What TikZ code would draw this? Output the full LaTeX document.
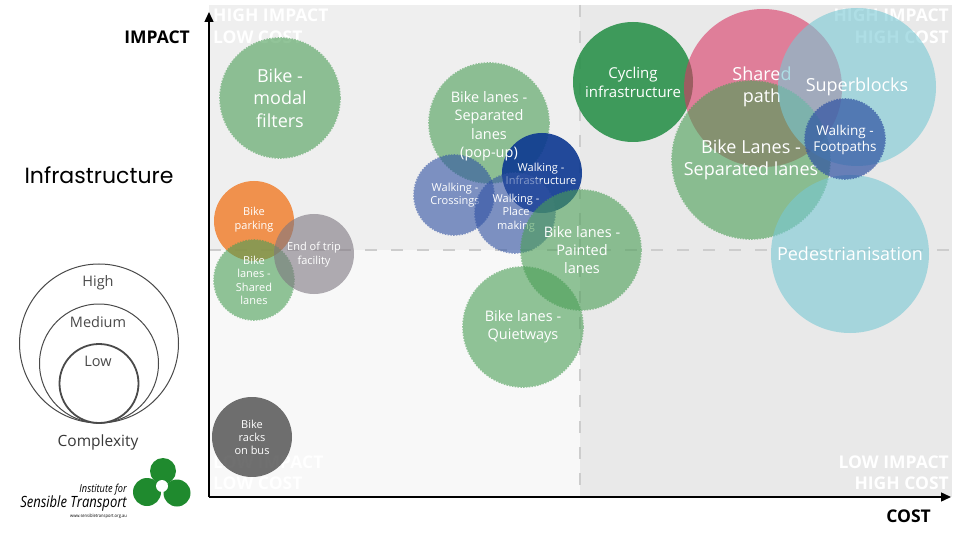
\documentclass[tikz,border=0pt]{standalone}
\usepackage{fontspec}
\setmainfont{Open Sans}
\newfontfamily\popfont{Poppins}
\usetikzlibrary{arrows.meta}
\definecolor{bgTL}{HTML}{EFEFEF}
\definecolor{bgBL}{HTML}{F8F8F8}
\definecolor{bgR}{HTML}{E9E9E9}
\definecolor{dashc}{HTML}{CDCDCD}
\definecolor{cGreen}{HTML}{4A9E56}
\definecolor{cDGreen}{HTML}{2C924C}
\definecolor{cPink}{HTML}{D93765}
\definecolor{cTeal}{HTML}{78C8D4}
\definecolor{cBlue}{HTML}{3052A3}
\definecolor{cDBlue}{HTML}{0C3891}
\definecolor{cOrange}{HTML}{F18131}
\definecolor{cGray}{HTML}{7D7680}
\definecolor{cDGray}{HTML}{575757}
\definecolor{legc}{HTML}{4A4A4A}
\definecolor{logoG}{HTML}{1F8A2E}
\newcommand\fs[2]{\fontsize{#1}{#2}\selectfont}
\newcommand\dashbub[5]{\begin{scope}[transparency group, opacity=#5]
  \fill[#4] (#1,#2) circle[radius=#3pt];
  \draw[#4, line width=1.6pt, dash pattern=on 1.5pt off 1.3pt] (#1,#2) circle[radius=#3pt];
\end{scope}}
\newcommand\solidbub[5]{\begin{scope}[transparency group, opacity=#5]
  \fill[#4] (#1,#2) circle[radius=#3pt];
\end{scope}}
\tikzset{
  lbl/.style={text=white, align=center, inner sep=0pt},
  qlab/.style={text=white, inner sep=0pt, font=\bfseries\fs{17.5}{21}},
  axlab/.style={text=black, inner sep=0pt, font=\bfseries\fs{17.5}{21}},
  legring/.style={draw=legc, line width=1pt},
  leglab/.style={text=legc, inner sep=0pt, font=\fs{14.5}{17}},
  axisline/.style={line width=1.4pt, -{Triangle[length=10pt,width=9pt]}},
  quaddash/.style={dashc, line width=1.5pt, dash pattern=on 12pt off 14pt}
}
\begin{document}
\begin{tikzpicture}[x=1pt,y=-1pt]
\useasboundingbox (0,0) rectangle (956,540);
\fill[white] (0,0) rectangle (956,540);
% background quadrants
\fill[bgTL] (209,5) rectangle (580,250);
\fill[bgBL] (209,250) rectangle (580,497);
\fill[bgR] (580,5) rectangle (952,497);
\draw[quaddash] (209,250) -- (952,250);
\draw[quaddash] (580,5) -- (580,497);
% quadrant labels
\node[qlab, anchor=base west] (q1a) at (213,22) {HIGH IMPACT};
\node[qlab, anchor=base west] (q1b) at (213,44) {LOW COST};
\node[qlab, anchor=base east] (q2a) at (949,22) {HIGH IMPACT};
\node[qlab, anchor=base east] (q2b) at (949,44) {HIGH COST};
\node[qlab, anchor=base west] (q3a) at (213,468) {LOW IMPACT};
\node[qlab, anchor=base west] (q3b) at (213,489) {LOW COST};
\node[qlab, anchor=base east] (q4a) at (949,468) {LOW IMPACT};
\node[qlab, anchor=base east] (q4b) at (949,489) {HIGH COST};
% bubbles, left group
\dashbub{280}{98}{60}{cGreen}{0.6}
\node[lbl, font=\fs{18}{22.5}] (modal) at (280,98) {Bike -\\modal\\filters};
\solidbub{254}{221}{40}{cOrange}{0.85}
\node[lbl, font=\fs{11}{14}] (parking) at (254,219.5) {Bike\\parking};
\dashbub{254}{280}{40}{cGreen}{0.6}
\node[lbl, font=\fs{11}{13.4}] (shared) at (254,280.5) {Bike\\lanes -\\Shared\\lanes};
\solidbub{314}{254}{40}{cGray}{0.6}
\node[lbl, font=\fs{11}{14}] (endtrip) at (314,254.5) {End of trip\\facility};
\solidbub{252}{437}{40}{cDGray}{0.85}
\node[lbl, font=\fs{11}{12.7}] (racks) at (252,437.5) {Bike\\racks\\on bus};
% middle group
\dashbub{489}{123}{60}{cGreen}{0.6}
\dashbub{454}{195}{40}{cBlue}{0.6}
\node[lbl, font=\fs{11}{13.3}] (cross) at (455,195) {Walking -\\Crossings};
\solidbub{542}{173}{40}{cDBlue}{0.9}
\node[lbl, font=\fs{14.5}{18.5}] (popup) at (489,126) {Bike lanes -\\Separated\\lanes\\(pop-up)};
\node[lbl, font=\fs{11}{13.3}] (walkinf) at (541,174) {Walking -\\Infrastructure};
\dashbub{515}{213}{40}{cBlue}{0.6}
\node[lbl, font=\fs{11}{13.5}] (place) at (516,213) {Walking -\\Place\\making};
\dashbub{581}{250}{60}{cGreen}{0.6}
\node[lbl, font=\fs{14.5}{17.8}] (painted) at (582,250) {Bike lanes -\\Painted\\lanes};
\dashbub{523}{327}{60}{cGreen}{0.6}
\node[lbl, font=\fs{14.5}{17.8}] (quiet) at (523,327) {Bike lanes -\\Quietways};
% right group
\solidbub{633}{82}{60}{cDGreen}{0.9}
\node[lbl, font=\fs{15}{18.5}] (cycling) at (633,82.5) {Cycling\\infrastructure};
\solidbub{763}{88}{79}{cPink}{0.6}
\dashbub{751}{160}{79}{cGreen}{0.6}
\node[lbl, font=\fs{18}{21.5}] (sharedpath) at (762,87) {Shared\\path};
\node[lbl, font=\fs{18}{22}] (seplanes) at (751,160) {Bike Lanes -\\Separated lanes};
\solidbub{857}{87}{79}{cTeal}{0.6}
\node[lbl, font=\fs{18}{22}] (superb) at (857,87) {Superblocks};
\solidbub{850}{254}{79}{cTeal}{0.6}
\node[lbl, font=\fs{18}{22}] (pedest) at (850,254) {Pedestrianisation};
\dashbub{845}{139}{40}{cBlue}{0.7}
\node[lbl, font=\fs{13.5}{16}] (footp) at (845,140) {Walking -\\Footpaths};
% axes
\coordinate (origin) at (209,497);
\coordinate (ytip) at (209,12);
\coordinate (xtip) at (951,497);
\draw[axisline] (origin) -- (ytip);
\draw[axisline] (origin) -- (xtip);
\node[axlab, anchor=base east] (impact) at (190,44) {IMPACT};
\node[axlab, anchor=base east] (cost) at (931,522) {COST};
% category label
\node[inner sep=0pt, anchor=base, font=\popfont\fs{22}{25}] (infra) at (99,184) {Infrastructure};
% legend
\draw[legring] (99,343.5) circle[radius=79.5pt];
\draw[legring] (99,363.5) circle[radius=59.5pt];
\draw[legring, line width=1.8pt] (99,383.5) circle[radius=39.5pt];
\node[leglab, anchor=base] (lhigh) at (98,287) {High};
\node[leglab, anchor=base] (lmed) at (98,327) {Medium};
\node[leglab, anchor=base] (llow) at (98,366) {Low};
\node[leglab, anchor=base, text=black!78, font=\fs{15.5}{18}] (lcomp) at (98,446) {Complexity};
% logo
\fill[logoG] (163,471) circle[radius=13pt];
\fill[logoG] (147,492) circle[radius=14pt];
\fill[logoG] (177,493) circle[radius=13.5pt];
\fill[white] (162,486) circle[radius=6pt];
\node[inner sep=0pt, anchor=base east, font=\itshape\fs{11}{13}] (inst) at (127,492) {\scalebox{0.84}[1]{Institute for}};
\node[inner sep=0pt, anchor=base east, font=\itshape\fs{15.5}{18}] (sens) at (127,507) {\scalebox{0.84}[1]{Sensible Transport}};
\node[inner sep=0pt, anchor=base east, font=\fs{4.5}{5}] (www) at (127,517) {\scalebox{0.9}[1]{www.sensibletransport.org.au}};
\end{tikzpicture}
\end{document}
